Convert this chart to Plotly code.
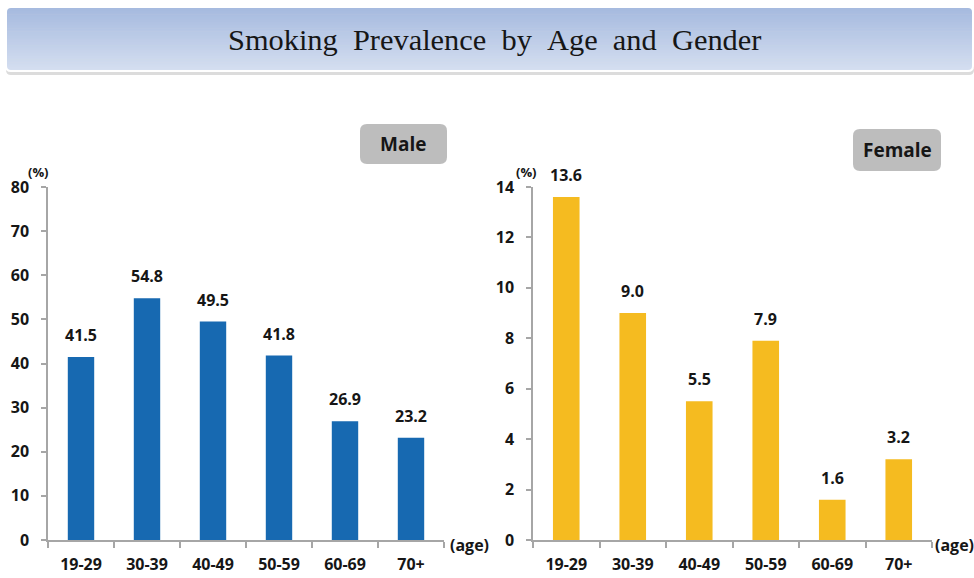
import plotly.graph_objects as go

# Smoking prevalence (%) by age group
age_groups = ["19-29", "30-39", "40-49", "50-59", "60-69", "70+"]
male_rates = [41.5, 54.8, 49.5, 41.8, 26.9, 23.2]
female_rates = [13.6, 9.0, 5.5, 7.9, 1.6, 3.2]
male_ticks = [0, 10, 20, 30, 40, 50, 60, 70, 80]
female_ticks = [0, 2, 4, 6, 8, 10, 12, 14]

W, H = 974, 578
MALE_COLOR = "#1769b1"
FEMALE_COLOR = "#f5bb20"
AXIS_COLOR = "#a6a6a6"
LABEL_FONT = "Open Sans"
TEXT_COLOR = "#161616"


def px(x):
    return x / W


def py(y):
    return 1 - y / H


def rounded_rect(x0, y0, x1, y1, r):
    """SVG path (paper coords) for a rounded rectangle given in pixels."""
    pts = [
        f"M {px(x0 + r)},{py(y0)}",
        f"L {px(x1 - r)},{py(y0)}",
        f"Q {px(x1)},{py(y0)} {px(x1)},{py(y0 + r)}",
        f"L {px(x1)},{py(y1 - r)}",
        f"Q {px(x1)},{py(y1)} {px(x1 - r)},{py(y1)}",
        f"L {px(x0 + r)},{py(y1)}",
        f"Q {px(x0)},{py(y1)} {px(x0)},{py(y1 - r)}",
        f"L {px(x0)},{py(y0 + r)}",
        f"Q {px(x0)},{py(y0)} {px(x0 + r)},{py(y0)}",
        "Z",
    ]
    return " ".join(pts)


fig = go.Figure()
fig.add_trace(go.Bar(x=age_groups, y=male_rates, marker_color=MALE_COLOR,
                     marker_line_width=0, xaxis="x", yaxis="y", hoverinfo="x+y"))
fig.add_trace(go.Bar(x=age_groups, y=female_rates, marker_color=FEMALE_COLOR,
                     marker_line_width=0, xaxis="x2", yaxis="y2", hoverinfo="x+y"))

y_dom = [py(540), py(187)]
tickfont = dict(family=LABEL_FONT, size=16, color=TEXT_COLOR, weight="bold")

xcommon = dict(type="category", showline=True, linecolor=AXIS_COLOR, linewidth=1.5,
               ticks="outside", ticklen=6, tickcolor=AXIS_COLOR, tickwidth=1.5,
               tickson="boundaries", showgrid=False, zeroline=False, automargin=False,
               tickfont=tickfont, ticklabelstandoff=9, fixedrange=True)
ycommon = dict(showline=True, linecolor=AXIS_COLOR, linewidth=1.5, ticks="outside",
               ticklen=5, tickcolor=AXIS_COLOR, tickwidth=1.5, showgrid=False,
               zeroline=False, tickfont=tickfont, ticklabelstandoff=9, automargin=False,
               tickmode="array", fixedrange=True)

fig.update_layout(
    width=W, height=H,
    margin=dict(l=0, r=0, t=0, b=0, autoexpand=False),
    paper_bgcolor="white", plot_bgcolor="white",
    showlegend=False, bargap=0.6,
    xaxis=dict(domain=[px(48), px(444)], anchor="y", **xcommon),
    yaxis=dict(domain=y_dom, anchor="x", range=[0, 80], tickvals=male_ticks, **ycommon),
    xaxis2=dict(domain=[px(533), px(932)], anchor="y2", **xcommon),
    yaxis2=dict(domain=y_dom, anchor="x2", range=[0, 14], tickvals=female_ticks, **ycommon),
)

shapes = []
# Title banner: drop shadow, vertical gradient, white rim
shapes.append(dict(type="path", xref="paper", yref="paper",
                   path=rounded_rect(6, 11, 974, 75, 5),
                   fillcolor="#dcdcdc", line=dict(width=0), layer="below"))
top_rgb = (166, 186, 223)
bot_rgb = (212, 222, 240)
y_top, y_bot, n = 8, 70, 40
for i in range(n):
    t = i / (n - 1)
    c = tuple(round(a + (b - a) * t) for a, b in zip(top_rgb, bot_rgb))
    ya = y_top + (y_bot - y_top) * i / n
    yb = y_top + (y_bot - y_top) * (i + 1) / n + 0.6
    shapes.append(dict(type="rect", xref="paper", yref="paper",
                       x0=px(7), x1=px(972), y0=py(yb), y1=py(ya),
                       fillcolor="rgb(%d,%d,%d)" % c, line=dict(width=0), layer="below"))
shapes.append(dict(type="path", xref="paper", yref="paper",
                   path=rounded_rect(6, 7, 973, 71, 5),
                   fillcolor="rgba(0,0,0,0)", line=dict(color="white", width=2), layer="below"))
# Gender label boxes
shapes.append(dict(type="path", xref="paper", yref="paper",
                   path=rounded_rect(360, 124, 447, 164, 7),
                   fillcolor="#bdbdbd", line=dict(width=0), layer="below"))
shapes.append(dict(type="path", xref="paper", yref="paper",
                   path=rounded_rect(853, 129, 941, 171, 7),
                   fillcolor="#bdbdbd", line=dict(width=0), layer="below"))
fig.update_layout(shapes=shapes)


def paper_note(text, x, y, size, family=LABEL_FONT, xanchor="center"):
    return dict(text=text, xref="paper", yref="paper", x=px(x), y=py(y),
                xanchor=xanchor, yanchor="middle", showarrow=False,
                font=dict(family=family, size=size, color=TEXT_COLOR))


annotations = [
    paper_note("Smoking\u00a0\u00a0Prevalence\u00a0\u00a0by\u00a0\u00a0Age\u00a0\u00a0and\u00a0\u00a0Gender",
               494, 40, 30.4, family="Liberation Serif"),
    paper_note("<b>Male</b>", 403, 144, 19),
    paper_note("<b>Female</b>", 897, 150, 19),
    paper_note("<b>(%)</b>", 38, 172, 13),
    paper_note("<b>(%)</b>", 526, 172, 13),
    paper_note("<b>(age)</b>", 448, 545, 16, xanchor="left"),
    paper_note("<b>(age)</b>", 933, 545, 16, xanchor="left"),
]
for cat, v in zip(age_groups, male_rates):
    annotations.append(dict(text=f"<b>{v:.1f}</b>", x=cat, y=v, xref="x", yref="y",
                            yanchor="bottom", yshift=9, showarrow=False,
                            font=dict(family=LABEL_FONT, size=16, color=TEXT_COLOR)))
for cat, v in zip(age_groups, female_rates):
    annotations.append(dict(text=f"<b>{v:.1f}</b>", x=cat, y=v, xref="x2", yref="y2",
                            yanchor="bottom", yshift=9, showarrow=False,
                            font=dict(family=LABEL_FONT, size=16, color=TEXT_COLOR)))
fig.update_layout(annotations=annotations)

fig.write_html("out.html")
